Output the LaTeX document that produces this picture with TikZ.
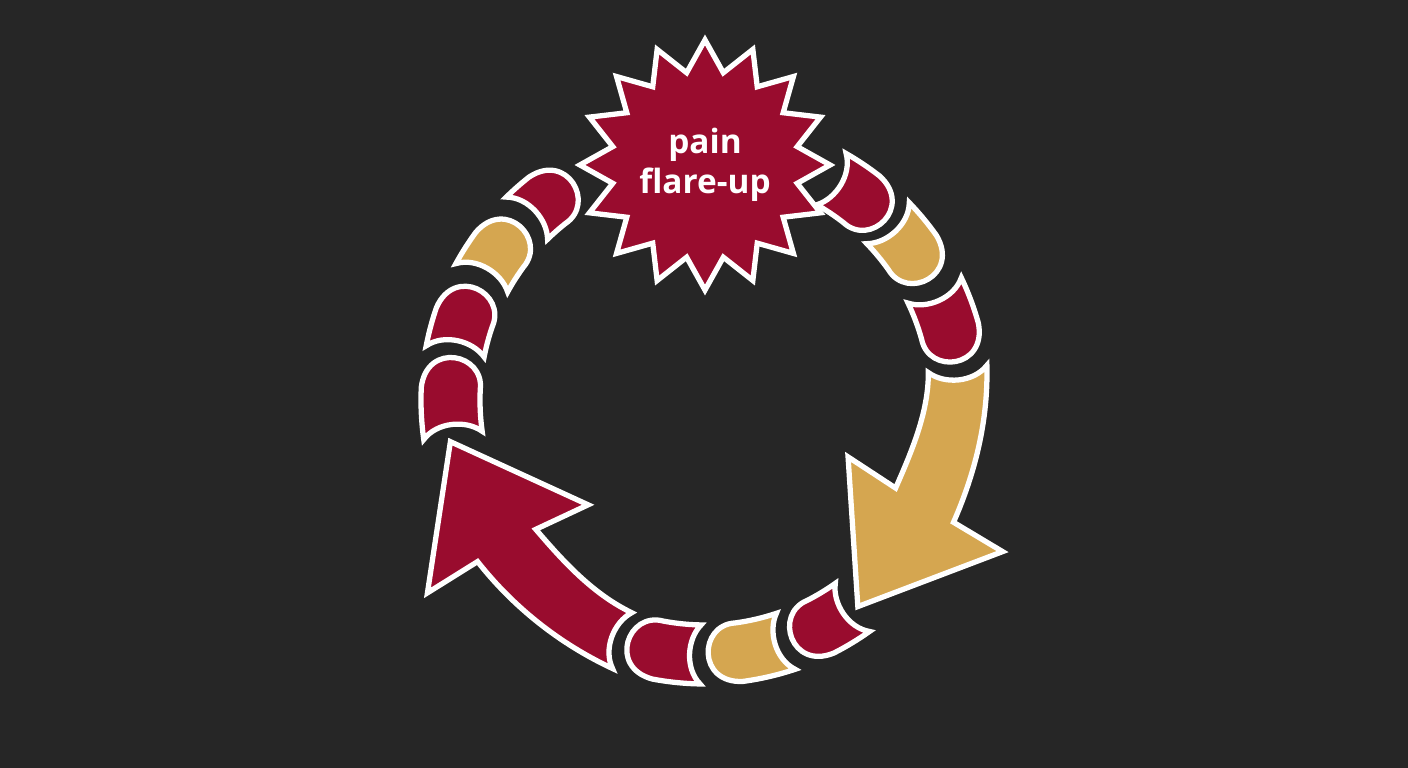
\documentclass[tikz,border=0pt]{standalone}
\usepackage{fontspec}
\usepackage{tikz}
\usetikzlibrary{shapes.geometric}
\newfontfamily\flarefont{Open Sans}
\definecolor{flarebg}{HTML}{262626}
\definecolor{flarered}{HTML}{990C2E}
\definecolor{flaregold}{HTML}{D5A650}

\begin{document}
\begin{tikzpicture}[x=0.01cm, y=0.01cm,
    piece/.style={draw=white, line width=1.5pt, line join=miter},
    burst/.style={star, star points=16, star point ratio=1.33, minimum size=2.5cm,
      inner sep=0pt, fill=flarered, draw=white, line width=1.5pt, text=white,
      align=center, font=\flarefont\bfseries\fontsize{9.5}{11.4}\selectfont}]
        \fill[flarebg] (-705,-368) rectangle (703,400);
        % small pieces, going round clockwise
        \foreach \a/\b/\c in {60.2/45/flarered, 44/28.4/flaregold, 25.5/8.7/flarered,
            -54.6/-70/flarered, -71.5/-89.3/flaregold, -91/-107.7/flarered,
            188/170.4/flarered, 169/154/flarered, 151.3/136.8/flaregold, 134.4/121.3/flarered} {
          \filldraw[piece, fill=\c] (\a:284) arc[start angle=\a, end angle=\b+7, radius=284]
            .. controls (\b-2.3:284) and (\b-2.3:225) .. (\b+7:225)
            arc[start angle=\b+7, end angle=\a, radius=225]
            .. controls (\a-3.3:240) and (\a-3.3:269) .. cycle;
        }
        % the two big arrows
        \filldraw[piece, fill=flaregold] (7:284) .. controls (-4:284) and (-15:280) .. (-26.2:277)
          -- (-27:334) -- (-53.5:257) -- (-21.7:154) -- (-24.8:210)
          .. controls (-14:213) and (-3:224) .. (7:225)
          .. controls (3.7:240) and (3.7:269) .. cycle;
        \filldraw[piece, fill=flarered] (-109:284) .. controls (-121:284) and (-133:282) .. (-144.6:279)
          -- (-145.2:338) -- (-170.7:258) -- (-138.1:157) -- (-142.6:213)
          .. controls (-131:215) and (-120:224) .. (-109:225)
          .. controls (-112.3:240) and (-112.3:269) .. cycle;
        \node[burst] (flare) at (0,235) {pain\\flare-up};
\end{tikzpicture}
\end{document}
